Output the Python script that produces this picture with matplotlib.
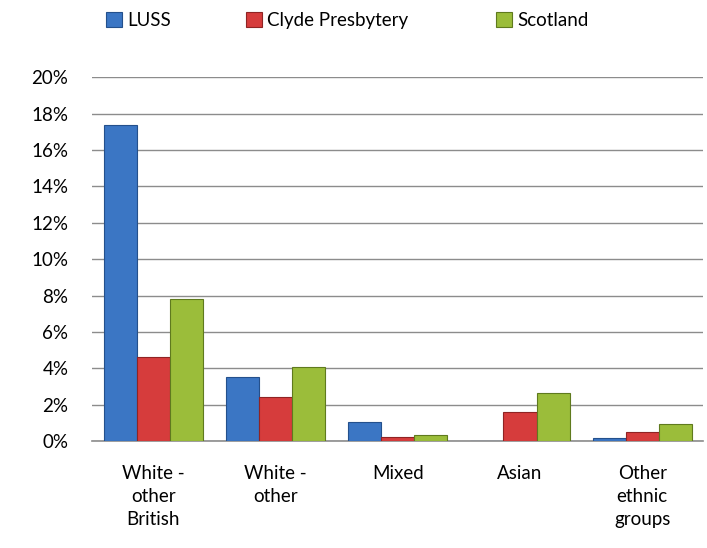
import matplotlib
matplotlib.use("Agg")
import matplotlib.pyplot as plt
import numpy as np

categories = ["White -\nother\nBritish", "White -\nother", "Mixed", "Asian", "Other\nethnic\ngroups"]
series_names = ["LUSS", "Clyde Presbytery", "Scotland"]
luss = [17.4, 3.5, 1.05, 0.0, 0.2]
clyde = [4.6, 2.4, 0.22, 1.6, 0.5]
scotland = [7.8, 4.1, 0.33, 2.65, 0.95]

_BLUE = "#3b76c4"
_RED = "#d63c3c"
_GREEN = "#9bbd3a"
_EDGES = ["#24508c", "#8f2424", "#5f7a1e"]

plt.rcParams["font.family"] = ["Lato", "DejaVu Sans"]
FS = 13.5

fig = plt.figure(figsize=(7.07, 5.48), dpi=100)
ax = fig.add_axes([0.130, 0.195, 0.865, 0.664])

x = np.arange(len(categories))
w = 0.27
bars = []
for i, (vals, c) in enumerate(zip([luss, clyde, scotland], [_BLUE, _RED, _GREEN])):
    b = ax.bar(x + (i - 1) * w, vals, w, color=c, edgecolor=_EDGES[i], lw=0.8,
               label=series_names[i], zorder=3)
    bars.append(b)

ax.set_ylim(0, 20)
ax.set_xlim(-0.5, len(categories) - 0.5)
ax.set_yticks(np.arange(0, 21, 2))
ax.set_yticklabels([f"{v}%" for v in range(0, 21, 2)])
ax.yaxis.grid(True, color="#8c8c8c", lw=1.0, zorder=0)
ax.set_xticks(x)
ax.set_xticklabels(categories, va="top", linespacing=1.45)
ax.tick_params(axis="x", length=0, pad=17, labelsize=FS)
ax.tick_params(axis="y", length=0, pad=17, labelsize=FS)
for s in ["top", "right", "left"]:
    ax.spines[s].set_visible(False)
ax.spines["bottom"].set_color("#8c8c8c")
ax.spines["bottom"].set_linewidth(1.2)

# legend entries placed individually (Excel-style uneven spacing)
for b, name, xpos in zip(bars, series_names, [107, 247, 497]):
    fig.legend([b], [name], loc="upper left",
               bbox_to_anchor=(xpos / 707 - 0.022, 1.006), frameon=False,
               fontsize=FS, handlelength=0.85, handleheight=0.85,
               handletextpad=0.25, borderpad=0.3)

fig.savefig("out.png", dpi=100)
